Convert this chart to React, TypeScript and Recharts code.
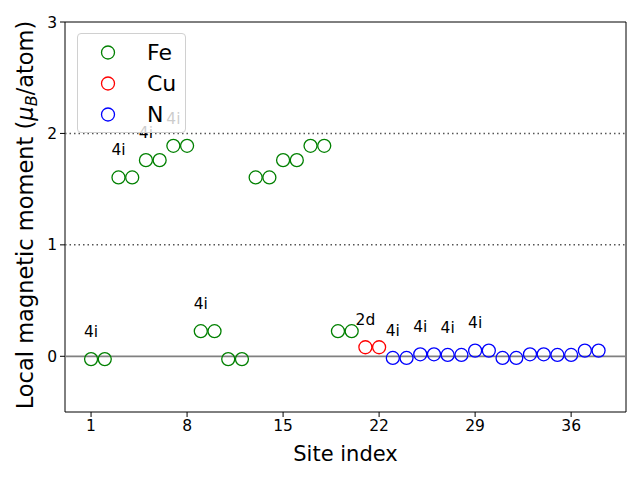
import React from "react";
import {
  ScatterChart,
  Scatter,
  XAxis,
  YAxis,
  ReferenceLine,
  ReferenceArea,
  Legend,
} from "recharts";

// site indices and local moments per element
const feSites = [1, 2, 3, 4, 5, 6, 7, 8, 9, 10, 11, 12, 13, 14, 15, 16, 17, 18, 19, 20];
const feMoments = [
  -0.025, -0.025, 1.605, 1.605, 1.76, 1.76, 1.889, 1.889, 0.225, 0.225,
  -0.025, -0.025, 1.605, 1.605, 1.76, 1.76, 1.889, 1.889, 0.225, 0.225,
];
const cuSites = [21, 22];
const cuMoments = [0.081, 0.081];
const nSites = [23, 24, 25, 26, 27, 28, 29, 30, 31, 32, 33, 34, 35, 36, 37, 38];
const nMoments = [
  -0.015, -0.015, 0.018, 0.018, 0.012, 0.012, 0.051, 0.051,
  -0.015, -0.015, 0.018, 0.018, 0.012, 0.012, 0.051, 0.051,
];

// Wyckoff labels
const labelSites = [1, 3, 5, 7, 9, 21, 23, 25, 27, 29];
const labelTexts = ["4i", "4i", "4i", "4i", "4i", "2d", "4i", "4i", "4i", "4i"];
const labelOffset = 0.2;

const xTicks = [1, 8, 15, 22, 29, 36];
const yTicks = [0, 1, 2, 3];

const legendNames = ["Fe", "Cu", "N"];
const legendColors = ["green", "red", "blue"];

const FONT = "DejaVu Sans";

const toPoints = (sites: number[], values: number[]) =>
  sites.map((x, i) => ({ x, y: values[i] }));

const allSites = [...feSites, ...cuSites, ...nSites];
const allMoments = [...feMoments, ...cuMoments, ...nMoments];
const labelPoints = labelSites.map((s, i) => ({
  x: s,
  y: allMoments[allSites.indexOf(s)] + labelOffset,
  text: labelTexts[i],
}));

const ring = (color: string) => (props: any) =>
  <circle cx={props.cx} cy={props.cy} r={6.5} fill="none" stroke={color} strokeWidth={1.3} />;

const labelShape = (props: any) => (
  <text
    x={props.cx}
    y={props.cy}
    textAnchor="middle"
    fontFamily={FONT}
    fontSize={15.5}
    fill="#000"
  >
    {props.payload.text}
  </text>
);

const renderLegend = () => (
  <div
    style={{
      width: 109,
      height: 100,
      border: "1px solid #d0d0d0",
      borderRadius: 4,
      background: "rgba(255,255,255,0.8)",
      boxSizing: "border-box",
      paddingTop: 3,
    }}
  >
    {legendNames.map((name, i) => (
      <div key={name} style={{ display: "flex", alignItems: "center", height: 31 }}>
        <svg width={60} height={31}>
          <circle cx={30} cy={15.5} r={6.5} fill="none" stroke={legendColors[i]} strokeWidth={1.3} />
        </svg>
        <span style={{ fontFamily: FONT, fontSize: 22, marginLeft: 9, color: "#000" }}>{name}</span>
      </div>
    ))}
  </div>
);

const YLabel = () => (
  <text
    transform="translate(33,215) rotate(-90)"
    textAnchor="middle"
    fontFamily={FONT}
    fontSize={22.5}
    fill="#000"
  >
    Local magnetic moment (
    <tspan fontStyle="italic">μ</tspan>
    <tspan fontStyle="italic" fontSize={16} dy={4}>B</tspan>
    <tspan dy={-4}>/atom)</tspan>
  </text>
);

const XLabel = (props: any) => {
  const vb = props.viewBox || {};
  return (
    <text
      x={vb.x + vb.width / 2}
      y={461}
      textAnchor="middle"
      fontFamily={FONT}
      fontSize={21}
      fill="#000"
    >
      Site index
    </text>
  );
};

export default function App() {
  return (
    <div style={{ position: "absolute", left: 0, top: 0, width: 640, height: 480, background: "#fff" }}>
      <ScatterChart
        width={640}
        height={480}
        margin={{ top: 22, right: 14, left: 0, bottom: 0 }}
      >
        <XAxis
          dataKey="x"
          type="number"
          domain={[-0.9, 40]}
          allowDataOverflow
          ticks={xTicks}
          height={68}
          axisLine={false}
          tickSize={5}
          tickMargin={3}
          tickLine={{ stroke: "#000" }}
          tick={{ fontFamily: FONT, fontSize: 15.5, fill: "#000" }}
          label={<XLabel />}
        />
        <YAxis
          dataKey="y"
          type="number"
          domain={[-0.5, 3]}
          allowDataOverflow
          ticks={yTicks}
          width={65}
          axisLine={false}
          tickSize={5}
          tickMargin={3}
          tickLine={{ stroke: "#000" }}
          tick={{ fontFamily: FONT, fontSize: 15.5, fill: "#000" }}
          label={<YLabel />}
        />
        <ReferenceLine y={2} stroke="#555" strokeWidth={1.5} strokeDasharray="1.5 3" />
        <ReferenceLine y={1} stroke="#555" strokeWidth={1.5} strokeDasharray="1.5 3" />
        <ReferenceLine y={0} stroke="#808080" strokeWidth={1.8} />
        <ReferenceArea x1={-0.9} x2={40} y1={-0.5} y2={3} fill="none" stroke="#000" strokeWidth={1} />
        <Legend
          layout="vertical"
          align="center"
          verticalAlign="middle"
          content={renderLegend}
          wrapperStyle={{ position: "absolute", left: 77, top: 33, width: 109, height: 100 }}
        />
        <Scatter name="Fe" data={toPoints(feSites, feMoments)} shape={ring("green")} isAnimationActive={false} />
        <Scatter name="Cu" data={toPoints(cuSites, cuMoments)} shape={ring("red")} isAnimationActive={false} />
        <Scatter name="N" data={toPoints(nSites, nMoments)} shape={ring("blue")} isAnimationActive={false} />
        <Scatter name="labels" data={labelPoints} shape={labelShape} legendType="none" isAnimationActive={false} />
      </ScatterChart>
    </div>
  );
}
